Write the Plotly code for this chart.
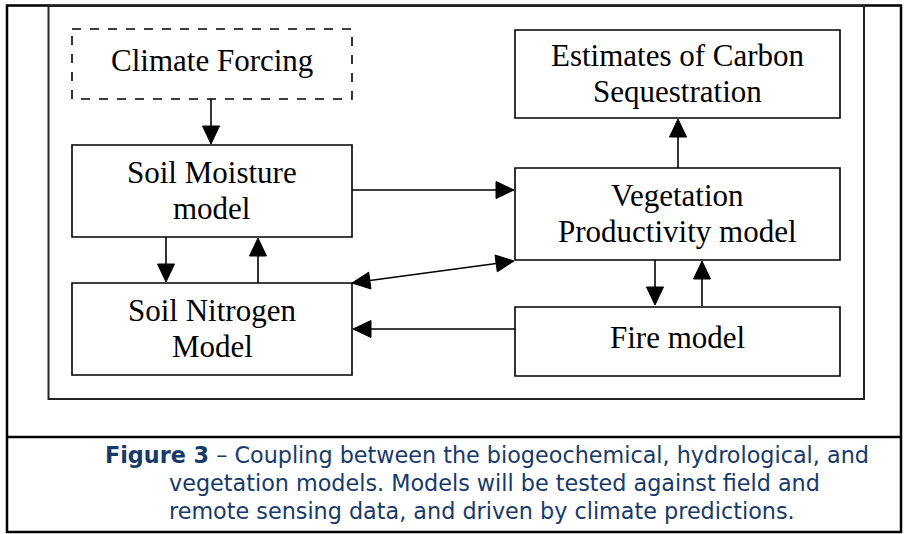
import plotly.graph_objects as go

# ---- diagram content ----
node_names = ["climate", "carbon", "moisture", "veg", "nitrogen", "fire"]
node_labels = [["Climate Forcing"], ["Estimates of Carbon", "Sequestration"], ["Soil Moisture", "model"],
               ["Vegetation", "Productivity model"], ["Soil Nitrogen", "Model"], ["Fire model"]]
node_dashed = [True, False, False, False, False, False]
# box extents in page pixels
node_x0 = [72, 515, 72, 515, 72, 515]
node_x1 = [352, 840, 352, 840, 352, 840]
node_y0 = [29, 30, 145, 168, 283, 307]
node_y1 = [99, 118, 237, 260, 375, 376]

# edges: start point, end point, double-headed?
edge_x0 = [211, 678, 352, 166, 258, 352, 515, 655, 702]
edge_y0 = [99, 168, 190, 237, 283, 283, 329, 260, 306]
edge_x1 = [211, 678, 514, 166, 258, 514, 353, 655, 702]
edge_y1 = [144, 119, 190, 282, 238, 261, 329, 305, 261]
edge_both = [False, False, False, False, False, True, False, False, False]

caption_lines = ["<b>Figure 3</b> – Coupling between the biogeochemical, hydrological, and",
                 "vegetation models. Models will be tested against field and",
                 "remote sensing data, and driven by climate predictions."]

W, H = 904, 534
fig = go.Figure()
shapes = []
annotations = []

# outer frame, inner frame, separator
shapes.append(dict(type="rect", x0=7, y0=5.5, x1=901, y1=532, line=dict(color="black", width=2.5)))
shapes.append(dict(type="rect", x0=48.5, y0=6, x1=864, y1=399, line=dict(color="#222", width=2)))
shapes.append(dict(type="line", x0=7, y0=437, x1=901, y1=437, line=dict(color="black", width=2.5)))

LS = 36  # line spacing of the box labels
for name, lab, dsh, x0, x1, y0, y1 in zip(node_names, node_labels, node_dashed, node_x0, node_x1, node_y0, node_y1):
    shapes.append(dict(type="rect", x0=x0, y0=y0, x1=x1, y1=y1,
                       line=dict(color="black", width=1.6, dash="dash" if dsh else "solid")))
    cy = (y0 + y1) / 2 - (4 if len(lab) == 1 else 1)
    for i, line in enumerate(lab):
        ty = cy + (i - (len(lab) - 1) / 2) * LS
        annotations.append(dict(x=(x0 + x1) / 2, y=ty, text=line, showarrow=False,
                                xref="x", yref="y", xanchor="center", yanchor="middle",
                                font=dict(family="Liberation Serif", size=31, color="black")))

HL, HW = 18, 8.5


def head(tx, ty, fx, fy):
    dx, dy = tx - fx, ty - fy
    L = (dx * dx + dy * dy) ** 0.5
    ux, uy = dx / L, dy / L
    bx, by = tx - ux * HL, ty - uy * HL
    px, py = -uy, ux
    return (f"M{tx},{ty} L{bx + px * HW},{by + py * HW} L{bx - px * HW},{by - py * HW} Z", bx, by)


for x0, y0, x1, y1, both in zip(edge_x0, edge_y0, edge_x1, edge_y1, edge_both):
    p1, bx1, by1 = head(x1, y1, x0, y0)
    sx, sy = x0, y0
    if both:
        p0, sx, sy = head(x0, y0, x1, y1)
        shapes.append(dict(type="path", path=p0, fillcolor="black", line=dict(color="black", width=1)))
    shapes.append(dict(type="line", x0=sx, y0=sy, x1=bx1, y1=by1, line=dict(color="black", width=1.6)))
    shapes.append(dict(type="path", path=p1, fillcolor="black", line=dict(color="black", width=1)))

cap_x = [103, 167, 167]
cap_y = [455, 483, 511]
for t, cx, cy in zip(caption_lines, cap_x, cap_y):
    annotations.append(dict(x=cx, y=cy, text=t, showarrow=False, xref="x", yref="y",
                            xanchor="left", yanchor="middle",
                            font=dict(family="DejaVu Sans", size=22.3, color="#173a6a")))

fig.update_layout(
    width=W, height=H, margin=dict(l=0, r=0, t=0, b=0),
    paper_bgcolor="white", plot_bgcolor="white",
    xaxis=dict(range=[0, W], visible=False, fixedrange=True),
    yaxis=dict(range=[H, 0], visible=False, fixedrange=True),
    shapes=shapes, annotations=annotations, showlegend=False,
)
fig.write_html("out.html", config={"displayModeBar": False},
               post_script="document.body.style.margin='0';document.body.style.overflow='hidden';")
